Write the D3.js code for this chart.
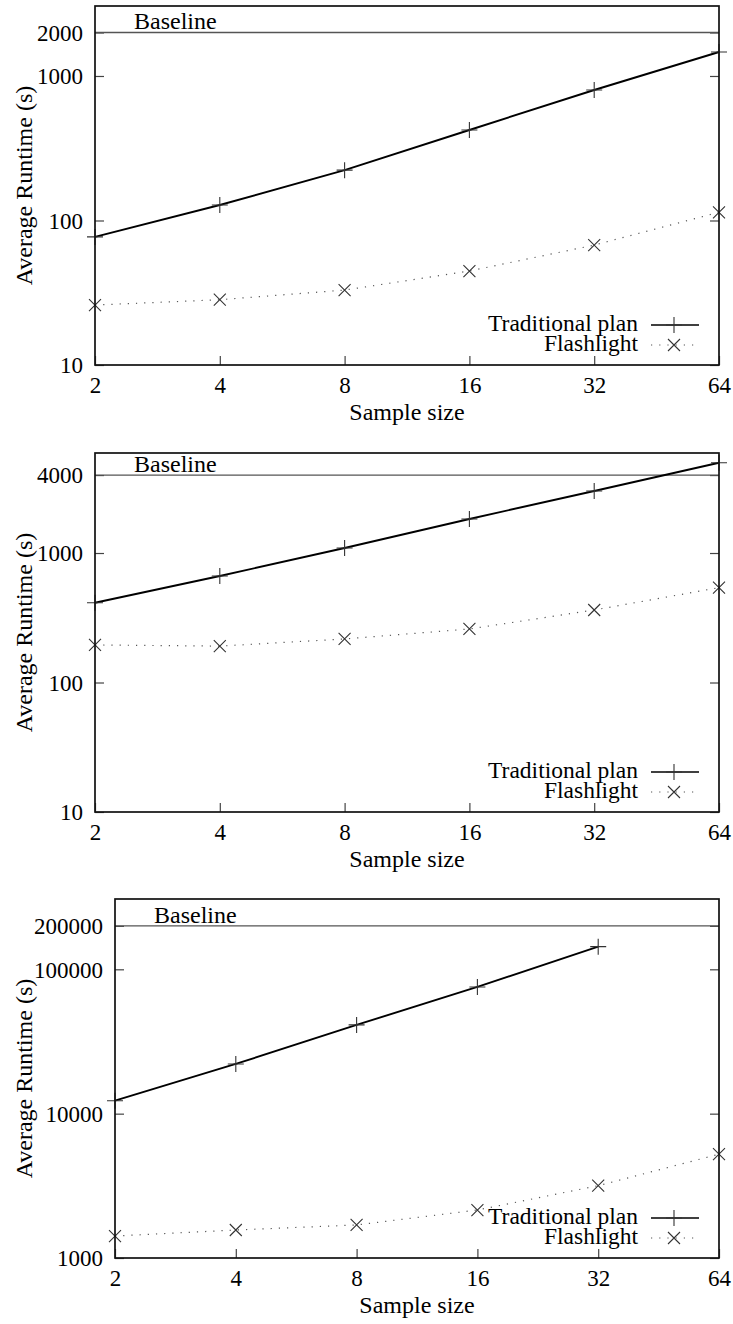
<!DOCTYPE html>
<meta charset='utf-8'>
<style>
html, body {
  margin: 0;
  padding: 0;
  background: #fff;
}
.frame {
  fill: none;
  stroke: #111;
  stroke-width: 1.7;
}
.tick line {
  stroke: #444;
  stroke-width: 1.2;
}
.trad {
  fill: none;
  stroke: #000;
  stroke-width: 1.9;
}
.flash {
  fill: none;
  stroke: #555;
  stroke-width: 1.2;
  stroke-dasharray: 1.2, 7;
}
.mark {
  stroke: #333;
  stroke-width: 1.1;
  fill: none;
}
.baseline {
  stroke: #555;
  stroke-width: 1.3;
}
</style>
<body>
<div id='container'></div>
<script src='https://d3js.org/d3.v7.min.js'></script>
<script>

// sample sizes on the x axis
var sampleSizes = [2, 4, 8, 16, 32, 64];
var xTicks = [2, 4, 8, 16, 32, 64];

// panel 1
var trad1  = [77, 128, 223, 423, 800, 1466];
var flash1 = [26, 28.3, 33, 44.7, 67.6, 114];
var yTicks1 = [10, 100, 1000, 2000];
var yDomain1 = [10, 3050];
var baseline1 = 2000;

// panel 2
var trad2  = [413, 664, 1094, 1832, 3014, 4980];
var flash2 = [195, 191, 217, 259, 363, 540];
var yTicks2 = [10, 100, 1000, 4000];
var yDomain2 = [10, 5920];
var baseline2 = 4000;

// panel 3 (no traditional run at 64)
var trad3  = [12300, 22100, 41200, 75500, 143500];
var flash3 = [1420, 1563, 1694, 2150, 3170, 5240];
var yTicks3 = [1000, 10000, 100000, 200000];
var yDomain3 = [1000, 307000];
var baseline3 = 200000;

var W = 733, H = 1324;
var fs = 23, fsLabel = 24, fsLegend = 23.5;
var serif = '"Liberation Serif", "Times New Roman", Times, serif';

var svg = d3.select('#container').append('svg')
    .attr('width', W)
    .attr('height', H)
    .style('font-family', serif);

var panels = [
  {left: 95,  top: 6,   trad: trad1, flash: flash1, ticks: yTicks1, domain: yDomain1, base: baseline1},
  {left: 95,  top: 453, trad: trad2, flash: flash2, ticks: yTicks2, domain: yDomain2, base: baseline2},
  {left: 115, top: 899, trad: trad3, flash: flash3, ticks: yTicks3, domain: yDomain3, base: baseline3}
];
var right = 719, ph = 359;

function plus(g, cx, cy) {
  var s = 8;
  g.append('path').attr('class', 'mark')
    .attr('d', 'M' + (cx - s) + ',' + cy + 'H' + (cx + s) + 'M' + cx + ',' + (cy - s) + 'V' + (cy + s));
}
function cross(g, cx, cy) {
  var s = 6;
  g.append('path').attr('class', 'mark')
    .attr('d', 'M' + (cx - s) + ',' + (cy - s) + 'L' + (cx + s) + ',' + (cy + s) +
               'M' + (cx - s) + ',' + (cy + s) + 'L' + (cx + s) + ',' + (cy - s));
}

panels.forEach(function(p) {
  var w = right - p.left;
  var g = svg.append('g').attr('transform', 'translate(' + p.left + ',' + p.top + ')');

  var x = d3.scaleLog().base(2).domain([2, 64]).range([0, w]);
  var y = d3.scaleLog().domain(p.domain).range([ph, 0]);

  // axes, ticks pointing inward
  var xa = g.append('g').attr('transform', 'translate(0,' + ph + ')')
    .call(d3.axisBottom(x).tickValues(xTicks).tickFormat(d3.format('d'))
      .tickSize(-9).tickPadding(12));
  var ya = g.append('g')
    .call(d3.axisLeft(y).tickValues(p.ticks).tickFormat(d3.format('d'))
      .tickSize(-9).tickPadding(12));
  var yr = g.append('g').attr('transform', 'translate(' + w + ',0)')
    .call(d3.axisRight(y).tickValues(p.ticks).tickFormat('').tickSize(-9));
  [xa, ya, yr].forEach(function(a) {
    a.select('.domain').remove();
    a.attr('font-family', serif).attr('font-size', fs);
  });
  ya.selectAll('text').attr('dy', '0.34em');

  // baseline
  g.append('line').attr('class', 'baseline')
    .attr('x1', 0).attr('x2', w)
    .attr('y1', y(p.base)).attr('y2', y(p.base));
  g.append('text')
    .attr('x', 39).attr('y', y(p.base) - 3)
    .attr('font-size', fsLabel)
    .text('Baseline');

  // series
  var line = d3.line()
    .x(function(d, i) { return x(sampleSizes[i]); })
    .y(function(d) { return y(d); });
  g.append('path').attr('class', 'flash').attr('d', line(p.flash));
  g.append('path').attr('class', 'trad').attr('d', line(p.trad));
  p.trad.forEach(function(d, i) { plus(g, x(sampleSizes[i]), y(d)); });
  p.flash.forEach(function(d, i) { cross(g, x(sampleSizes[i]), y(d)); });

  // frame
  g.append('rect').attr('class', 'frame')
    .attr('width', w).attr('height', ph);

  // legend
  var lx = 651 - p.left, lx2 = 699 - p.left, mx = 674 - p.left;
  g.append('text').attr('x', 638 - p.left).attr('y', ph - 34)
    .attr('text-anchor', 'end').attr('font-size', fsLegend).text('Traditional plan');
  g.append('line').attr('class', 'trad').style('stroke-width', 1.3)
    .attr('x1', lx).attr('x2', lx2).attr('y1', ph - 40).attr('y2', ph - 40);
  plus(g, mx, ph - 40);
  g.append('text').attr('x', 638 - p.left).attr('y', ph - 14)
    .attr('text-anchor', 'end').attr('font-size', fsLegend).text('Flashlight');
  g.append('line').attr('class', 'flash')
    .attr('x1', lx).attr('x2', lx2).attr('y1', ph - 20).attr('y2', ph - 20);
  cross(g, mx, ph - 20);

  // axis titles
  g.append('text')
    .attr('x', (p.left + right) / 2 - p.left).attr('y', ph + 55)
    .attr('text-anchor', 'middle').attr('font-size', fsLabel)
    .text('Sample size');
  g.append('text')
    .attr('transform', 'translate(' + (32 - p.left) + ',' + (ph / 2) + ') rotate(-90)')
    .attr('text-anchor', 'middle').attr('font-size', fsLabel)
    .text('Average Runtime (s)');
});

</script>
</body>
